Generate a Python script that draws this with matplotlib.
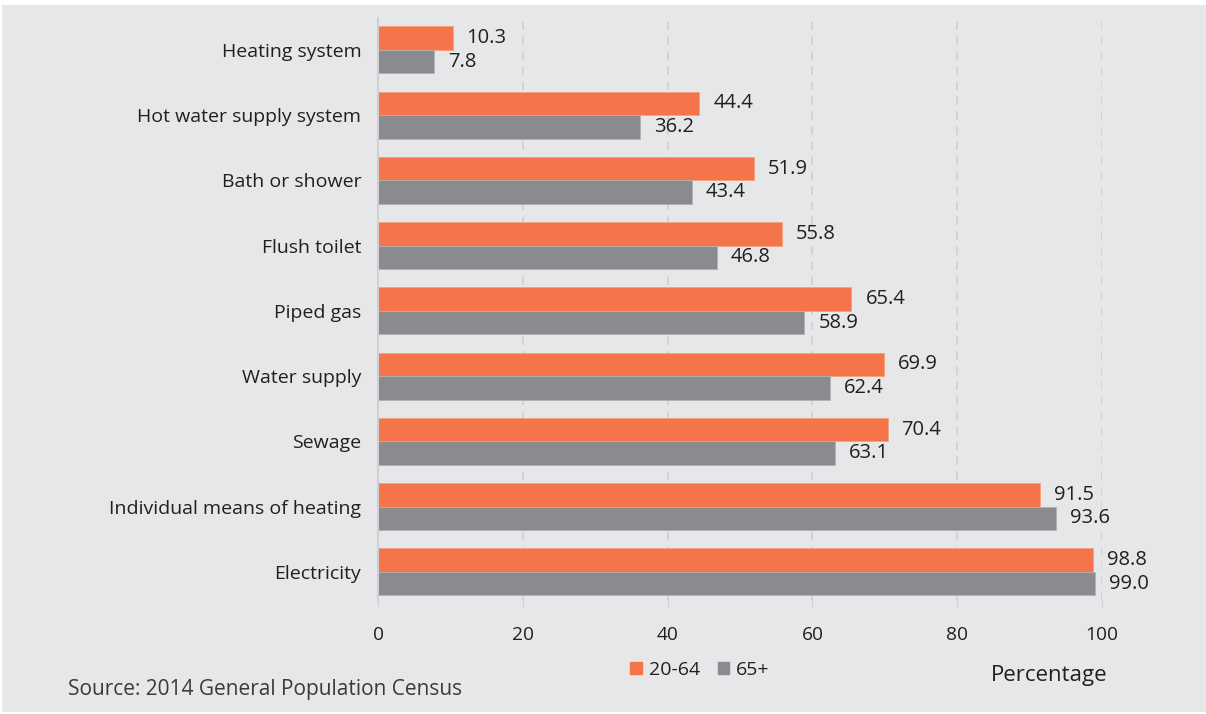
import numpy as np
import matplotlib
matplotlib.use("Agg")
import matplotlib.pyplot as plt
from matplotlib.patches import Patch, Rectangle

plt.rcParams['font.family'] = ['Open Sans', 'DejaVu Sans']

categories = ["Heating system", "Hot water supply system", "Bath or shower",
              "Flush toilet", "Piped gas", "Water supply", "Sewage",
              "Individual means of heating", "Electricity"]
age_20_64 = [10.3, 44.4, 51.9, 55.8, 65.4, 69.9, 70.4, 91.5, 98.8]
age_65 = [7.8, 36.2, 43.4, 46.8, 58.9, 62.4, 63.1, 93.6, 99.0]
xticks = [0, 20, 40, 60, 80, 100]

orange = "#F4754A"
grey = "#8A8B8E"
bg = "#E6E7E8"
txt = "#231F20"

fig = plt.figure(figsize=(12.06, 7.14), dpi=100, facecolor="white")
fig.patches.append(Rectangle((2/1206, 2/714), 1 - 2/1206, 1 - 7/714,
                             transform=fig.transFigure, facecolor=bg,
                             edgecolor="none", zorder=-10))

ax = fig.add_axes([378/1206, 114/714, 724/1206, 582/714])
ax.set_facecolor("none")

y = np.arange(len(categories))
h = 0.36
b1 = ax.barh(y - h/2, age_20_64, height=h, color=orange, edgecolor="#F7A080", linewidth=0.6)
b2 = ax.barh(y + h/2, age_65, height=h, color=grey, edgecolor="#B0B1B3", linewidth=0.6)

for bars, vals in ((b1, age_20_64), (b2, age_65)):
    for bar, v in zip(bars, vals):
        ax.annotate(f"{v:.1f}", (bar.get_width(), bar.get_y() + bar.get_height()/2),
                    xytext=(10, 0), textcoords="offset points", ha="left", va="center",
                    fontsize=14.5, color=txt, annotation_clip=False)

ax.set_xlim(0, 100)
ax.set_ylim(len(categories) - 1 + 0.43, -0.49)
ax.set_yticks(y)
ax.set_yticklabels(categories, fontsize=14, color=txt)
ax.set_xticks(xticks)
ax.set_xticklabels([str(t) for t in xticks], fontsize=13.8, color=txt)
ax.tick_params(axis="y", length=0, pad=12)
ax.tick_params(axis="x", length=5, direction="out", color="#CFD0D2", pad=14)

ax.grid(axis="x", linestyle=(0, (5, 4)), color="#CFD0D2", linewidth=1.2)
ax.set_axisbelow(True)
for s in ("top", "right", "bottom"):
    ax.spines[s].set_visible(False)
ax.spines["left"].set_color("#CFD0D2")
ax.spines["left"].set_linewidth(1.5)

handles = [Patch(color=orange, label="20-64"), Patch(color=grey, label="65+")]
fig.legend(handles=handles, loc="center", bbox_to_anchor=(700/1206, 1 - 670/714),
           ncol=2, frameon=False, fontsize=14, handlelength=0.6, handleheight=0.6,
           handletextpad=0.35, columnspacing=0.9, labelcolor=txt)

fig.text(1049/1206, 1 - 676/714, "Percentage", ha="center", va="center",
         fontsize=16, color=txt)
fig.text(68/1206, 1 - 690/714, "Source: 2014 General Population Census",
         ha="left", va="center", fontsize=15, color="#3A3A3A")

fig.savefig("out.png", dpi=100, facecolor=fig.get_facecolor())
